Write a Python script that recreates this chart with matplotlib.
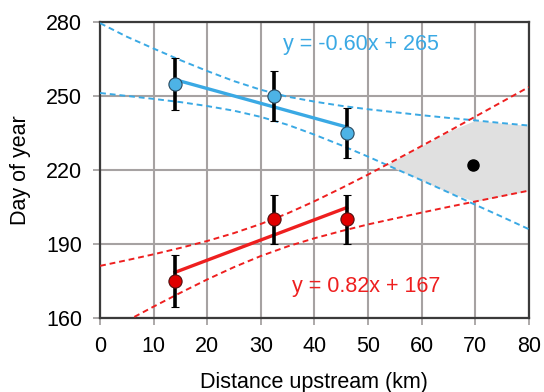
import matplotlib.pyplot as plt
import numpy as np

plt.rcParams['font.family'] = ['Liberation Sans', 'DejaVu Sans']

# measured points (km upstream, day of year)
dist = [14, 32.5, 46]
blue_day = [255, 250, 235]
blue_err = [10.5, 10, 10]
red_day = [175, 200, 200]
red_err = [10.5, 10, 10]

# fitted lines
blue_fit_x = [14, 46]
blue_fit_y = [256.6, 237.4]
red_fit_x = [14, 46]
red_fit_y = [178.5, 204.7]

# confidence bands
band_x = [0, 5, 10, 15, 20, 25, 30, 35, 40, 45, 50, 55, 60, 65, 70, 75, 80]
blue_upper = [279.5, 274.0, 269.2, 264.5, 260.1, 256.0, 252.5, 249.7, 247.7,
              246.0, 244.6, 243.4, 242.2, 241.1, 240.1, 239.0, 238.0]
blue_lower = [251.2, 250.0, 248.8, 247.5, 245.9, 244.0, 241.5, 238.3, 234.3,
              230.0, 225.4, 220.6, 215.8, 210.9, 205.9, 201.0, 196.0]
red_upper = [181.1, 183.4, 185.8, 188.4, 191.2, 194.4, 198.1, 202.4, 207.3,
             212.6, 218.1, 223.9, 229.7, 235.6, 241.6, 247.6, 253.6]
red_lower = [152.9, 158.8, 164.6, 170.2, 175.6, 180.6, 185.1, 189.0, 192.3,
             195.2, 197.9, 200.3, 202.7, 205.0, 207.2, 209.4, 211.6]

pred_x = [69.6]
pred_y = [221.8]

blue = '#3aa9e4'
red = '#ee1f1f'
fs = 15.5

fig = plt.figure(figsize=(5.44, 3.92), dpi=100)
ax = fig.add_axes([0.184, 0.189, 0.788, 0.755])

# overlap of the two bands
hi = np.minimum(blue_upper, red_upper)
lo = np.maximum(blue_lower, red_lower)
ax.fill_between(band_x, lo, hi, where=hi > lo, interpolate=True,
                color='#e0e0e0', linewidth=0, zorder=1)

for band, c in [(blue_upper, blue), (blue_lower, blue), (red_upper, red), (red_lower, red)]:
    ax.plot(band_x, band, '--', color=c, lw=1.4, dashes=(3, 2), zorder=3)

ax.plot(blue_fit_x, blue_fit_y, color=blue, lw=2.4, zorder=4)
ax.plot(red_fit_x, red_fit_y, color=red, lw=2.4, zorder=4)

ax.errorbar(dist, blue_day, yerr=blue_err, fmt='o', color='black', ecolor='black',
            elinewidth=2.6, capsize=3, capthick=2, markersize=9.5,
            markerfacecolor='#4db3e6', markeredgecolor='#2a4a60', markeredgewidth=0.8, zorder=5)
ax.errorbar(dist, red_day, yerr=red_err, fmt='o', color='black', ecolor='black',
            elinewidth=2.6, capsize=3, capthick=2, markersize=9.5,
            markerfacecolor='#e00000', markeredgecolor='#501010', markeredgewidth=0.8, zorder=5)

ax.plot(pred_x, pred_y, 'o', color='black', markersize=8, zorder=6)

ax.text(48.7, 270.7, 'y = -0.60x + 265', color=blue, fontsize=fs,
        ha='center', va='center', zorder=7)
ax.text(49.7, 172.7, 'y = 0.82x + 167', color=red, fontsize=fs,
        ha='center', va='center', zorder=7)

ax.set_xlim(0, 80)
ax.set_ylim(160, 280)
ax.set_xticks(range(0, 81, 10))
ax.set_yticks([160, 190, 220, 250, 280])
ax.grid(True, color='#a6a2a2', lw=1.5, zorder=0)
ax.set_axisbelow(True)
for s in ax.spines.values():
    s.set_color('#3a3a3a')
    s.set_linewidth(1.6)
ax.tick_params(labelsize=fs, length=5, width=1.3, color='#a6a2a2', pad=8)
ax.set_xlabel('Distance upstream (km)', fontsize=fs, labelpad=11)
ax.set_ylabel('Day of year', fontsize=fs, labelpad=11)

fig.savefig('out.png', dpi=100)
